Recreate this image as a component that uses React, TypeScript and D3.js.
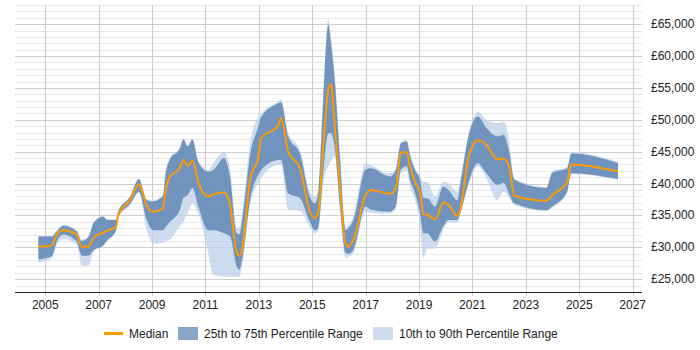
import React from "react";
import * as d3 from "d3";

const years = [2004.74, 2005.24, 2005.43, 2005.67, 2006.18, 2006.36, 2006.61, 2006.82, 2007.17, 2007.30,
  2007.65, 2007.73, 2008.17, 2008.51, 2008.80, 2009.05, 2009.40, 2009.51, 2009.67, 2010.04,
  2010.17, 2010.33, 2010.51, 2010.73, 2011.10, 2011.29, 2011.69, 2011.92, 2012.17, 2012.27,
  2012.39, 2012.67, 2012.98, 2013.08, 2013.73, 2013.83, 2014.10, 2014.54, 2014.91, 2015.10,
  2015.22, 2015.41, 2015.60, 2015.70, 2015.85, 2016.04, 2016.25, 2016.35, 2016.54, 2017.00,
  2017.19, 2017.91, 2018.13, 2018.32, 2018.54, 2018.66, 2018.85, 2019.04, 2019.16, 2019.31,
  2019.60, 2019.91, 2020.10, 2020.44, 2020.54, 2020.86, 2021.20, 2021.52, 2021.93, 2022.17,
  2022.36, 2022.57, 2023.77, 2023.99, 2024.55, 2024.70, 2026.45];

// values in £ thousands
const median = [30.1, 30.3, 32.0, 32.7, 32.0, 30.1, 30.1, 31.6, 32.3, 32.6,
  33.2, 35.1, 37.4, 39.9, 36.5, 35.6, 36.1, 39.0, 41.1, 42.4,
  43.7, 42.8, 43.6, 40.2, 38.0, 38.3, 38.6, 36.7, 29.2, 28.7,
  30.1, 40.6, 44.2, 47.1, 49.1, 50.3, 45.0, 42.4, 35.6, 34.6,
  35.4, 45.8, 54.7, 55.6, 48.4, 39.5, 30.5, 30.1, 31.2, 38.2,
  39.0, 38.4, 39.3, 44.9, 44.9, 42.7, 40.2, 38.5, 35.2, 35.1,
  34.4, 37.0, 36.7, 34.9, 35.9, 44.2, 46.8, 46.1, 43.8, 43.9,
  42.9, 38.1, 37.3, 38.2, 40.3, 43.0, 41.9];

const p75 = [31.7, 31.7, 32.5, 33.4, 32.5, 31.0, 31.6, 33.9, 34.8, 34.3,
  34.3, 35.6, 37.9, 40.7, 37.4, 37.2, 38.0, 41.6, 43.8, 45.5,
  46.9, 45.8, 46.9, 43.4, 41.9, 42.1, 44.0, 41.0, 32.2, 32.0,
  34.8, 44.5, 48.9, 50.4, 52.6, 52.8, 47.4, 44.7, 37.9, 36.9,
  38.5, 53.1, 64.9, 62.0, 55.7, 43.7, 32.7, 33.0, 34.3, 42.2,
  42.4, 41.1, 42.1, 46.3, 46.6, 44.4, 42.1, 40.6, 37.7, 37.7,
  36.4, 39.5, 39.0, 37.4, 39.8, 47.6, 50.5, 48.7, 47.4, 47.6,
  45.3, 40.6, 39.3, 41.7, 42.4, 44.7, 43.2];

const p25 = [28.1, 28.6, 30.9, 32.0, 30.9, 28.7, 28.7, 29.6, 30.3, 31.0,
  32.7, 34.8, 36.8, 38.7, 34.3, 32.7, 32.7, 33.2, 34.0, 35.9,
  37.7, 38.2, 39.3, 36.4, 32.7, 32.7, 32.2, 31.7, 27.0, 26.5,
  28.6, 37.4, 41.4, 42.1, 43.7, 43.7, 38.5, 37.7, 34.0, 32.7,
  33.0, 41.6, 47.9, 47.9, 45.3, 36.4, 29.1, 29.0, 29.6, 36.4,
  35.9, 35.6, 36.4, 42.2, 42.7, 40.6, 38.5, 35.3, 32.2, 32.2,
  30.9, 33.3, 34.3, 34.3, 35.3, 40.3, 43.2, 41.6, 39.8, 40.1,
  38.5, 36.9, 35.8, 36.4, 38.7, 41.6, 40.7];

const p90 = [31.8, 31.8, 32.7, 33.5, 32.7, 31.2, 31.8, 34.0, 34.9, 34.4,
  34.4, 35.8, 38.0, 40.8, 37.6, 37.4, 38.2, 41.8, 44.0, 45.7,
  47.1, 46.0, 47.0, 43.6, 42.1, 43.2, 45.0, 42.5, 33.0, 33.2,
  36.1, 46.3, 50.5, 51.0, 52.9, 53.2, 47.9, 45.3, 38.7, 38.0,
  39.0, 54.2, 65.7, 63.0, 56.8, 44.7, 33.2, 33.5, 34.8, 43.2,
  42.9, 41.6, 42.4, 46.6, 46.8, 44.8, 42.4, 41.1, 40.3, 40.3,
  38.0, 40.3, 40.1, 38.7, 40.6, 47.9, 51.3, 50.0, 49.5, 49.7,
  47.1, 40.8, 39.5, 41.9, 42.6, 44.9, 43.4];

const p10 = [27.6, 28.3, 30.4, 31.3, 30.4, 27.2, 27.1, 29.5, 30.2, 30.9,
  32.5, 34.6, 36.6, 38.5, 32.7, 30.6, 30.7, 31.0, 31.2, 33.3,
  34.0, 35.3, 36.9, 35.3, 29.1, 25.7, 25.4, 25.4, 25.4, 25.4,
  27.5, 36.6, 40.1, 40.8, 42.9, 42.9, 35.9, 35.7, 33.2, 32.2,
  32.5, 40.0, 42.7, 43.5, 44.2, 35.3, 28.3, 28.5, 29.1, 35.6,
  35.4, 35.3, 36.1, 41.6, 42.0, 39.5, 37.4, 33.3, 28.3, 29.8,
  29.8, 32.7, 34.0, 33.8, 35.1, 39.8, 42.7, 40.8, 37.4, 38.7,
  37.9, 36.6, 35.7, 36.2, 38.6, 41.5, 40.6];

const xTicks = [2005, 2007, 2009, 2011, 2013, 2015, 2017, 2019, 2021, 2023, 2025, 2027];
const yTicks = [25, 30, 35, 40, 45, 50, 55, 60, 65];
const legendLabels = ["Median", "25th to 75th Percentile Range", "10th to 90th Percentile Range"];

export default function App() {
  const W = 700, H = 350;
  const left = 15, right = 642, top = 5, bottom = 292;
  const x = d3.scaleLinear().domain([2003.865, 2027.35]).range([left, right]);
  const y = d3.scaleLinear().domain([23, 68]).range([bottom, top]);
  const idx = years.map((_, i) => i);
  const curve = d3.curveMonotoneX;

  const area = (lo: number[], hi: number[]) =>
    d3.area<number>().curve(curve).x(i => x(years[i])).y0(i => y(lo[i])).y1(i => y(hi[i]))(idx) || "";
  const line = d3.line<number>().curve(curve).x(i => x(years[i])).y(i => y(median[i]))(idx) || "";

  const minor = d3.range(23, 69, 1);
  const fmt = (v: number) => "£" + d3.format(",")(v * 1000);
  const font = "Liberation Sans, Arial, sans-serif";

  return (
    <svg width={W} height={H} style={{ position: "absolute", left: 0, top: 0, background: "#fff" }}
      fontFamily={font}>
      {minor.map(v => (
        <line key={"m" + v} x1={left} x2={right} y1={Math.round(y(v)) + 0.5} y2={Math.round(y(v)) + 0.5}
          stroke={v % 5 === 0 ? "#cfcfcf" : "#e8e8e8"} strokeWidth={1} />
      ))}
      {xTicks.map(t => (
        <line key={"v" + t} x1={Math.round(x(t)) + 0.5} x2={Math.round(x(t)) + 0.5} y1={top} y2={bottom + 4}
          stroke="#cccccc" strokeWidth={1} />
      ))}
      <path d={area(p10, p90)} fill="#bcd2ea" fillOpacity={0.75} />
      <path d={area(p25, p75)} fill="#5f87b5" fillOpacity={0.85} />
      <path d={line} fill="none" stroke="#ff9900" strokeWidth={2} strokeLinejoin="round" />
      <line x1={left} x2={right} y1={bottom + 0.5} y2={bottom + 0.5} stroke="#222" strokeWidth={1} />
      {xTicks.map(t => (
        <text key={"xt" + t} x={x(t)} y={bottom + 17} fontSize={12} fill="#222" textAnchor="middle">{t}</text>
      ))}
      {yTicks.map(v => (
        <text key={"yt" + v} x={651} y={y(v) + 4} fontSize={12} fill="#222">{fmt(v)}</text>
      ))}
      <g>
        <line x1={104} x2={123} y1={333.5} y2={333.5} stroke="#ff9900" strokeWidth={3} />
        <text x={129} y={337.5} fontSize={12} fill="#222">{legendLabels[0]}</text>
        <rect x={178} y={327} width={20} height={13} fill="#88a6c8" />
        <text x={204} y={337.5} fontSize={12} fill="#222">{legendLabels[1]}</text>
        <rect x={373} y={327} width={20} height={13} fill="#cfdeef" />
        <text x={399} y={337.5} fontSize={12} fill="#222">{legendLabels[2]}</text>
      </g>
    </svg>
  );
}
